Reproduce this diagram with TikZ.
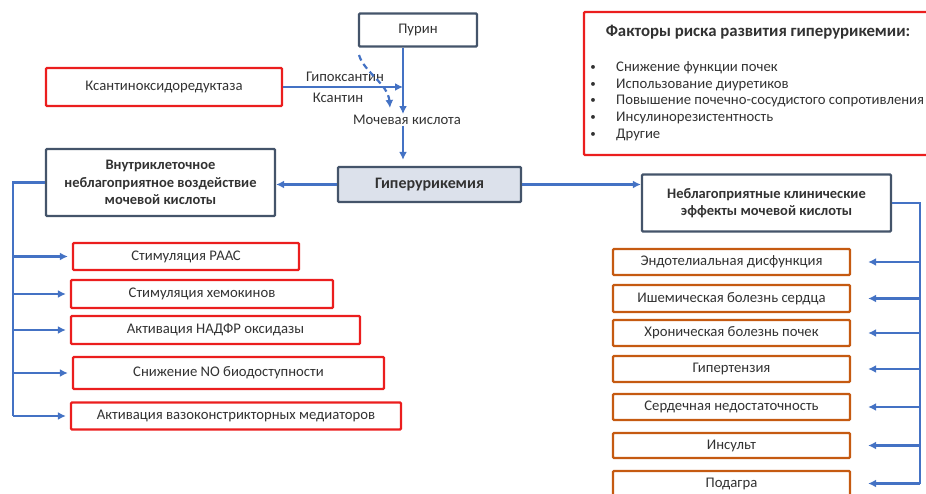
\documentclass[tikz,border=0pt]{standalone}
\usepackage{fontspec}
\setmainfont{Carlito}
\usetikzlibrary{arrows.meta}
\definecolor{dk}{RGB}{68,84,106}
\definecolor{rd}{RGB}{235,30,30}
\definecolor{org}{RGB}{197,90,17}
\definecolor{bl}{RGB}{68,114,196}
\definecolor{txt}{RGB}{50,50,50}
\definecolor{gfill}{RGB}{220,225,235}
\tikzset{
  base/.style={draw, line width=2.3pt, rounded corners=1pt, inner sep=0pt, align=center, text=txt, font=\fontsize{14.7}{17}\selectfont},
  darkbox/.style={base, draw=dk},
  redbox/.style={base, draw=rd},
  orgbox/.style={base, draw=org},
  boldtxt/.style={font=\fontsize{14.5}{17.5}\selectfont\bfseries},
  plain/.style={text=txt, inner sep=1pt, font=\fontsize{14.7}{17}\selectfont},
  conn/.style={draw=bl, line width=2.2pt},
  arr/.style={conn, -{Latex[length=8pt,width=8pt]}},
}
\begin{document}
\begin{tikzpicture}[x=1pt,y=-1pt]
\useasboundingbox (0,0) rectangle (926,494);
% top
\node[darkbox, minimum width=118pt, minimum height=33pt] (purin) at (418,30) {Пурин};
\node[redbox, minimum width=236pt, minimum height=38pt] (kso) at (164,87) {Ксантиноксидоредуктаза};
\node[plain] (hypo) at (345,77) {Гипоксантин};
\node[plain] (xan) at (338,98) {Ксантин};
\node[plain] (mk) at (407,120) {Мочевая кислота};
\coordinate (j) at (403,87);
\coordinate (ds) at (359,55);
\coordinate (de) at (390,108);
\draw[conn] (purin.south -| j) -- (j);
\draw[arr] (j) -- (j |- mk.north);
\draw[arr] (kso.east) -- (j);
\draw[arr, dashed, dash pattern=on 6pt off 4pt] (ds) .. controls (364,72) and (388,84) .. (de);
% risk box
\node[redbox, minimum width=346pt, minimum height=143pt] (risk) at (757,83.5) {};
\node[plain, font=\fontsize{16.8}{18}\selectfont\bfseries] (rtitle) at (758,32) {Факторы риска развития гиперурикемии:};
\foreach \t [count=\i] in {Снижение функции почек, Использование диуретиков, Повышение почечно-сосудистого сопротивления, Инсулинорезистентность, Другие}{
  \node[plain, anchor=west] (rf\i) at (615,{68+16.7*(\i-1)}) {\t};
  \node[plain, font=\fontsize{11}{12}\selectfont] (rb\i) at (593,{68+16.7*(\i-1)}) {•};
}
% center
\node[darkbox, fill=gfill, minimum width=183pt, minimum height=35pt, font=\fontsize{16}{18}\selectfont\bfseries] (giper) at (429.5,184.5) {Гиперурикемия};
\draw[arr, shorten >=6pt] (mk.south -| j) -- (giper.north -| j);
\node[darkbox, boldtxt, minimum width=229pt, minimum height=67pt] (vnutri) at (160.5,182.5) {Внутриклеточное\\неблагоприятное воздействие\\мочевой кислоты};
\node[darkbox, boldtxt, minimum width=249pt, minimum height=57pt] (nebl) at (766.5,203) {Неблагоприятные клинические\\эффекты мочевой кислоты};
\draw[arr] (giper.west) -- (vnutri.east |- giper.west);
\draw[arr] (giper.east) -- (nebl.west |- giper.east);
% left list
\node[redbox, minimum width=226pt, minimum height=27pt] (L1) at (186,256.5) {Стимуляция РААС};
\node[redbox, minimum width=262pt, minimum height=28pt] (L2) at (202,294) {Стимуляция хемокинов};
\node[redbox, minimum width=289pt, minimum height=28pt] (L3) at (215.5,330) {Активация НАДФР оксидазы};
\node[redbox, minimum width=311pt, minimum height=32pt] (L4) at (228.5,373) {Снижение NO биодоступности};
\node[redbox, minimum width=330pt, minimum height=27pt] (L5) at (236,416) {Активация вазоконстрикторных медиаторов};
\coordinate (lb) at (13,416);
\draw[conn] (vnutri.west) -| (lb);
\foreach \i in {1,...,5}{\draw[arr, shorten >=4pt] (lb |- L\i.west) -- (L\i.west);}
% right list
\node[orgbox, minimum width=237pt, minimum height=26pt] (R1) at (731.5,262) {Эндотелиальная дисфункция};
\node[orgbox, minimum width=237pt, minimum height=27pt] (R2) at (731.5,298.5) {Ишемическая болезнь сердца};
\node[orgbox, minimum width=237pt, minimum height=26pt] (R3) at (731.5,333) {Хроническая болезнь почек};
\node[orgbox, minimum width=237pt, minimum height=26pt] (R4) at (731.5,369) {Гипертензия};
\node[orgbox, minimum width=237pt, minimum height=26pt] (R5) at (731.5,407) {Сердечная недостаточность};
\node[orgbox, minimum width=237pt, minimum height=25pt] (R6) at (731.5,445.5) {Инсульт};
\node[orgbox, minimum width=237pt, minimum height=25pt] (R7) at (731.5,483.5) {Подагра};
\coordinate (rbus) at (920,483.5);
\draw[conn] (nebl.east) -| (rbus);
\foreach \i in {1,...,7}{\draw[arr, shorten >=17pt] (rbus |- R\i.east) -- (R\i.east);}
\end{tikzpicture}
\end{document}
